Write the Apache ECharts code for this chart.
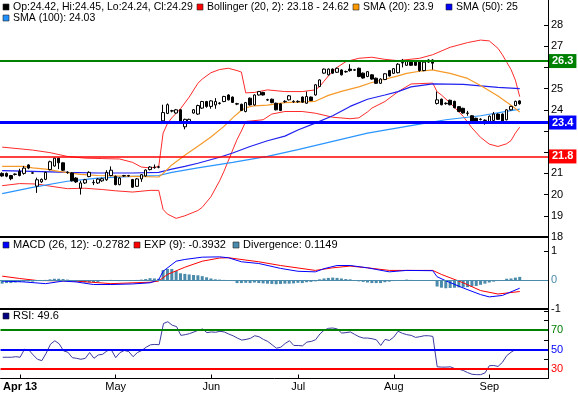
<!DOCTYPE html>
<html><head><meta charset="utf-8">
<script src="https://cdn.jsdelivr.net/npm/echarts@6/dist/echarts.min.js"></script>
<style>html,body{margin:0;padding:0;background:#fff}#c{width:578px;height:394px}</style>
</head><body><div id="c"></div>
<script>
// ---------- DATA ----------
const holidays = ['2013-03-29','2013-05-27','2013-07-04','2013-09-02'];
const firstDay = '2013-03-25';
const nDays = 120, nSlots = 126;

const ohlcOpen = [21.00,21.00,20.90,20.95,21.10,21.00,21.40,21.01,20.40,20.60,
20.72,21.18,21.35,21.72,21.50,21.04,21.02,20.78,20.30,20.55,
20.85,20.56,20.55,20.65,20.70,20.90,20.86,20.47,20.88,20.88,
20.71,20.39,20.74,20.88,21.18,21.27,21.29,23.48,23.83,23.94,
23.85,24.00,23.20,23.40,23.85,23.80,24.08,24.39,24.16,24.23,
24.30,24.39,24.70,24.60,24.27,24.26,23.92,24.55,24.23,24.70,
24.82,24.46,24.50,24.31,24.28,24.38,24.47,24.38,24.38,24.60,
24.31,24.60,24.70,25.10,25.73,25.65,25.92,25.77,25.88,25.79,
25.92,25.87,25.96,25.73,25.57,25.65,25.49,25.25,25.43,25.85,
25.72,25.75,26.21,26.10,26.25,26.25,26.25,25.85,26.35,26.35,
24.30,24.50,24.29,24.45,24.40,24.15,24.07,23.83,23.72,23.60,
23.54,23.49,23.45,23.50,23.80,23.80,23.53,24.00,24.20,24.42];
const ohlcClose = [20.88,20.87,20.75,20.97,20.90,21.25,21.25,21.03,20.70,20.72,
21.05,21.55,21.72,21.50,21.15,21.06,20.65,20.60,20.55,20.70,
21.05,20.58,20.73,20.75,21.05,21.15,20.47,20.78,20.90,20.90,
20.35,20.74,20.94,21.16,21.30,21.29,21.31,23.87,24.24,23.96,
24.00,23.40,23.55,23.55,24.00,24.20,24.39,24.16,24.42,24.39,
24.32,24.63,24.47,24.35,24.29,23.97,24.34,24.23,24.70,24.86,
24.70,24.48,24.34,24.00,23.97,24.40,24.66,24.40,24.40,24.36,
24.63,24.44,25.18,25.41,25.92,25.92,25.73,25.96,25.65,25.81,
25.85,25.89,25.57,25.50,25.80,25.45,25.25,25.45,25.70,25.60,
25.94,26.15,26.23,26.30,26.10,26.10,25.85,26.25,26.25,26.20,
24.47,24.24,24.31,24.24,24.10,23.92,23.85,23.85,23.45,23.45,
23.56,23.51,23.70,23.80,23.55,23.45,24.00,24.16,24.40,24.29];
const ohlcLow = [20.84,20.82,20.68,20.90,20.86,20.94,21.20,20.98,20.08,20.55,
20.68,21.14,21.32,21.20,21.12,20.98,20.62,20.55,20.00,20.50,
20.82,20.45,20.50,20.60,20.65,20.86,20.44,20.44,20.84,20.84,
20.32,20.36,20.60,20.84,21.14,21.22,21.24,23.45,23.80,23.88,
23.82,23.35,23.08,23.36,23.82,23.76,24.04,24.10,24.05,24.05,
24.25,24.36,24.44,24.32,24.22,23.94,23.88,24.20,24.20,24.67,
24.67,24.42,24.31,23.97,23.94,24.33,24.44,24.33,24.33,24.33,
24.28,24.41,24.67,25.07,25.70,25.62,25.70,25.74,25.62,25.75,
25.80,25.83,25.54,25.47,25.54,25.42,25.22,25.22,25.40,25.57,
25.69,25.72,26.00,26.07,26.07,26.07,25.80,25.82,26.22,25.90,
24.25,24.21,24.24,24.21,24.07,23.89,23.82,23.72,23.42,23.42,
23.50,23.30,23.42,23.47,23.52,23.42,23.50,23.97,24.17,24.24];
const ohlcHigh = [21.05,21.04,20.93,21.00,21.22,21.35,21.43,21.06,20.80,20.76,
21.08,21.60,21.75,21.75,21.52,21.10,21.05,20.82,20.65,20.74,
21.10,20.70,20.78,20.80,21.15,21.33,20.90,20.82,20.93,20.93,
20.74,20.78,20.97,21.19,21.34,21.42,21.36,24.24,24.30,24.00,
24.04,24.04,23.58,23.58,24.04,24.24,24.42,24.42,24.45,24.55,
24.36,24.66,24.73,24.63,24.33,24.29,24.37,24.58,24.73,24.89,
24.85,24.52,24.53,24.34,24.31,24.45,24.70,24.45,24.45,24.63,
24.86,24.63,25.21,25.44,25.95,25.95,25.95,25.99,25.91,25.85,
26.15,25.93,25.99,25.76,25.83,25.68,25.52,25.48,25.73,25.88,
25.97,26.20,26.40,26.33,26.28,26.28,26.28,26.28,26.38,26.38,
24.86,24.53,24.35,24.48,24.43,24.18,24.10,23.95,23.75,23.63,
23.60,23.55,23.73,23.90,23.83,23.83,24.03,24.19,24.43,24.45];

const bbUpper = [[0,22.24],[7,22.1],[11,21.98],[15,21.8],[19,21.72],[23,21.7],[27,21.68],[30,21.52],[32,21.3],[34,21.26],[36,21.32],[37,22.9],[38,23.35],[39,23.62],[41,24.05],[43,24.6],[45,25.25],[46,25.45],[48,25.75],[50,25.9],[52,25.96],[54,25.85],[55,25.78],[56,24.8],[58,24.82],[61,24.94],[65,24.86],[69,24.86],[72,24.94],[73,25.1],[74,25.35],[75,25.6],[76,25.8],[77,26.0],[79,26.27],[82,26.43],[85,26.48],[88,26.38],[91,26.32],[96,26.43],[99,26.6],[103,26.95],[107,27.17],[110,27.29],[112,27.25],[114,26.9],[115,26.6],[116,26.25],[117,25.9],[118,25.4],[119,24.62]];
const bbLower = [[0,20.42],[4,20.52],[8,20.5],[11,20.4],[15,20.28],[19,20.3],[23,20.24],[26,20.18],[30,20.12],[34,20.2],[36,20.2],[37,19.3],[38,19.08],[40,18.88],[42,19.0],[45,19.25],[46,19.4],[48,19.9],[50,20.65],[51,21.1],[53,22.1],[54,22.6],[55,23.0],[56,23.45],[57,23.47],[60,23.53],[62,23.8],[65,23.92],[69,23.92],[72,23.84],[76,23.65],[80,23.58],[82,23.62],[84,23.9],[85,24.08],[88,24.39],[91,24.85],[94,25.22],[99,25.26],[100,24.85],[101,24.7],[103,24.32],[106,23.69],[108,23.15],[110,22.7],[112,22.38],[114,22.27],[116,22.4],[117,22.55],[118,22.9],[119,23.18]];
const sma20 = [[0,21.33],[5,21.33],[7,21.26],[10,21.2],[13,21.1],[18,20.95],[22,20.9],[30,20.86],[36,20.83],[37,21.0],[39,21.4],[42,21.86],[45,22.28],[48,22.72],[51,23.22],[53,23.62],[55,23.98],[56,24.1],[58,24.19],[61,24.22],[65,24.34],[68,24.36],[72,24.4],[73,24.5],[75,24.68],[78,24.87],[82,25.08],[85,25.29],[88,25.44],[91,25.6],[93,25.72],[96,25.82],[99,25.88],[100,25.84],[103,25.72],[107,25.48],[110,25.15],[114,24.65],[117,24.22],[119,23.9]];
const sma50 = [[0,21.13],[7,21.1],[15,21.05],[22,21.02],[30,21.02],[36,21.05],[39,21.2],[42,21.33],[45,21.48],[50,21.76],[53,21.96],[57,22.27],[61,22.54],[65,22.76],[68,23.05],[72,23.37],[76,23.72],[80,24.16],[84,24.5],[88,24.7],[91,24.86],[94,25.08],[99,25.22],[106,25.2],[110,25.13],[114,25.06],[119,25.0]];
const sma100 = [[0,20.05],[7,20.34],[15,20.63],[22,20.78],[30,20.86],[36,20.9],[39,21.05],[45,21.26],[53,21.52],[61,21.8],[68,22.12],[76,22.51],[84,22.9],[89,23.08],[95,23.29],[102,23.53],[110,23.72],[119,24.03]];

const macdLine = [[0,-0.03],[5,-0.06],[10,-0.12],[14,-0.03],[17,-0.06],[21,-0.15],[25,-0.15],[30,-0.13],[34,-0.09],[35,-0.04],[36,0.02],[37,0.31],[40,0.66],[42,0.72],[46,0.8],[50,0.81],[52,0.78],[55,0.64],[59,0.58],[64,0.41],[68,0.31],[72,0.29],[74,0.4],[77,0.51],[80,0.51],[84,0.43],[89,0.29],[93,0.34],[99,0.33],[100,0.12],[102,-0.02],[106,-0.27],[110,-0.5],[112,-0.58],[115,-0.53],[119,-0.2782]];
const expLine = [[0,0.14],[4,0.06],[8,-0.01],[17,-0.03],[25,-0.12],[34,-0.07],[36,-0.03],[38,0.2],[42,0.45],[46,0.66],[50,0.77],[52,0.78],[59,0.64],[64,0.51],[72,0.34],[76,0.43],[80,0.49],[84,0.43],[89,0.34],[99,0.34],[101,0.2],[106,-0.09],[110,-0.36],[114,-0.48],[119,-0.3932]];
const divergence = [-0.12,-0.10,-0.10,-0.08,-0.06,-0.05,-0.04,-0.05,-0.03,-0.02,
0.01,0.03,0.05,0.05,0.04,0.02,-0.01,-0.05,-0.07,-0.08,
-0.08,-0.07,-0.06,-0.03,-0.02,0.01,-0.02,-0.03,0.00,-0.01,
-0.02,0.01,0.02,0.04,0.07,0.06,0.05,0.35,0.39,0.39,
0.32,0.24,0.22,0.20,0.18,0.17,0.14,0.10,0.06,0.03,
0.02,0.01,0.00,-0.03,-0.10,-0.10,-0.09,-0.10,-0.08,-0.10,
-0.11,-0.12,-0.13,-0.14,-0.13,-0.12,-0.12,-0.11,-0.09,-0.10,
-0.07,-0.06,-0.04,0.03,0.06,0.08,0.09,0.08,0.06,0.04,
0.03,0.00,-0.04,-0.06,-0.08,-0.10,-0.10,-0.10,-0.07,-0.05,
-0.03,-0.02,0.00,0.02,0.01,0.00,-0.01,-0.01,0.00,0.00,
-0.22,-0.26,-0.28,-0.27,-0.26,-0.25,-0.25,-0.24,-0.22,-0.20,
-0.16,-0.12,-0.08,-0.05,-0.03,-0.02,0.05,0.06,0.09,0.1149];
const rsi = [42.0,42.0,42.0,42.6,42.0,50.3,49.6,44.4,39.9,38.5,
46.2,55.6,59.1,55.9,48.6,47.2,41.6,40.9,39.9,40.9,
46.9,40.9,44.4,45.1,48.6,49.6,41.6,46.9,49.0,47.9,
42.6,46.9,49.0,52.4,54.9,55.3,55.0,77.0,78.8,75.2,
73.8,64.7,65.4,66.5,68.2,70.0,71.3,67.5,68.2,67.9,
68.9,68.2,66.1,64.3,61.9,59.8,60.5,61.6,64.3,63.3,
60.5,58.4,54.9,51.4,52.4,56.3,59.1,54.2,54.2,53.8,
57.7,58.4,60.1,66.1,70.2,72.0,72.3,71.3,67.1,67.5,
68.2,65.7,63.3,61.9,61.9,61.2,60.1,54.2,60.5,59.4,
62.9,68.9,66.8,65.4,64.7,62.6,63.3,64.3,64.3,63.6,
32.1,31.8,31.8,32.1,30.4,29.6,28.3,26.1,24.4,24.0,
24.0,25.8,33.2,33.5,32.5,36.7,43.7,47.2,50.0,49.6];

const resistanceLevel = 26.3, supportLevel = 23.4, lowLevel = 21.8;
const rsiLevels = [70, 50, 30];
const priceTicks = [18,19,20,21,22,23,24,25,26,27,28];
const priceLabels = [18,19,20,21,24,25,27,28];
const macdTicks = [-1,0,1];
const rsiTicks = [30,40,50,60,70,80,90];
const monthNames = ['Jan','Feb','Mar','Apr','May','Jun','Jul','Aug','Sep','Oct','Nov','Dec'];

// ---------- BUILD ----------
function buildDates(){
  const hol = new Set(holidays); const out=[];
  const p = firstDay.split('-').map(Number);
  const d = new Date(Date.UTC(p[0],p[1]-1,p[2]));
  while(out.length < nSlots){
    const wd=d.getUTCDay(); const s=d.toISOString().slice(0,10);
    if(wd!==0 && wd!==6 && !hol.has(s)) out.push(s);
    d.setUTCDate(d.getUTCDate()+1);
  }
  return out;
}
const categories = buildDates();
const monthStart = new Set();
for(let i=1;i<nDays;i++){ if(categories[i].slice(5,7)!==categories[i-1].slice(5,7)) monthStart.add(i); }
const firstMonthIdx = Math.min(...monthStart);

const candles = ohlcOpen.map((o,i)=>[o, ohlcClose[i], ohlcLow[i], ohlcHigh[i]]);
const last = a => { const v = a[a.length-1]; return Array.isArray(v) ? v[1] : v; };
const fmt = v => String(+v.toFixed(4));
const li = nDays-1;

const FONT = '"Liberation Sans", Arial, sans-serif';
const chart = echarts.init(document.getElementById('c'), null, {renderer:'canvas'});

function legendItems(y, items, size){
  const g=[];
  items.forEach(it=>{
    g.push({type:'rect', shape:{x:it.x, y:y-3, width:6, height:6}, style:{fill:it.color, stroke:'#222', lineWidth:0.6}, silent:true});
    g.push({type:'text', x:it.x+10, y:y, style:{text:it.text, fill:'#000', font:size+'px '+FONT, verticalAlign:'middle'}, silent:true});
  });
  return g;
}
const graphics = [].concat(
  legendItems(7, [
    {x:3, color:'#000', text:`Op:${fmt(ohlcOpen[li])}, Hi:${fmt(ohlcHigh[li])}, Lo:${fmt(ohlcLow[li])}, Cl:${fmt(ohlcClose[li])}`},
    {x:197, color:'#ff0000', text:`Bollinger (20, 2): ${fmt(last(bbLower))} - ${fmt(last(bbUpper))}`},
    {x:353, color:'#ff9900', text:`SMA (20): ${fmt(last(sma20))}`},
    {x:446, color:'#0000ff', text:`SMA (50): ${fmt(last(sma50))}`}
  ], 10.5),
  legendItems(18, [{x:3, color:'#1e90ff', text:`SMA (100): ${fmt(last(sma100))}`}], 10.5),
  legendItems(245, [
    {x:3, color:'#0000ff', text:`MACD (26, 12): ${fmt(last(macdLine))}`},
    {x:134, color:'#ff0000', text:`EXP (9): ${fmt(last(expLine))}`},
    {x:233, color:'#4a8aaa', text:`Divergence: ${fmt(divergence[li])}`}
  ], 11),
  legendItems(316, [{x:3, color:'#000080', text:`RSI: ${fmt(rsi[li])}`}], 11)
);

const xBase = (gi, extra) => Object.assign({
  type:'category', gridIndex:gi, data:categories, boundaryGap:true,
  axisLine:{show:true, onZero:false, lineStyle:{color:'#000', width:2}},
  axisTick:{show:false}, axisLabel:{show:false}, splitLine:{show:false}
}, extra||{});

const yBase = (gi, extra) => Object.assign({
  type:'value', gridIndex:gi, position:'right', scale:false,
  axisLine:{show:true, lineStyle:{color:'#000', width:1}},
  axisTick:{show:true, inside:true, length:4, lineStyle:{color:'#000'}},
  splitLine:{show:false},
}, extra||{});

const hLine = (val, color, width, labelText) => ({
  yAxis: val,
  lineStyle:{color, width, type:'solid'},
  label: labelText ? {show:true, position:'end', distance:1, formatter:labelText, color:'#fff', fontWeight:'bold', fontSize:11, fontFamily:FONT, backgroundColor:color, padding:[2,3,1,3]} : {show:false}
});

const option = {
  animation:false,
  textStyle:{fontFamily:FONT},
  grid:[
    {left:0, right:30, top:0, height:237},
    {left:0, right:30, top:237, height:72},
    {left:0, right:30, top:309, height:69.5}
  ],
  xAxis:[
    xBase(0),
    xBase(1),
    xBase(2, {
      axisLine:{show:true, onZero:false, lineStyle:{color:'#000', width:1}},
      axisTick:{show:true, inside:true, length:4, alignWithLabel:true, interval:(i)=>monthStart.has(i), lineStyle:{color:'#000'}},
      axisLabel:{show:true, interval:(i)=>monthStart.has(i), margin:3, fontSize:11, color:'#000',
        formatter:(v,i)=>{ const m=+v.slice(5,7)-1; return i===firstMonthIdx ? `{b|${monthNames[m]} ${v.slice(2,4)}}` : monthNames[m]; },
        rich:{b:{fontWeight:'bold', fontSize:11, fontFamily:FONT}}}
    })
  ],
  yAxis:[
    yBase(0, {min:18, max:29.18, interval:1,
      axisTick:{show:true, inside:true, length:4, lineStyle:{color:'#000'}, customValues:priceTicks},
      axisLabel:{show:true, margin:3, fontSize:11, color:'#000', customValues:priceLabels,
        formatter:(v)=> priceLabels.includes(v) ? String(v) : ''}}),
    yBase(1, {min:-1, max:1.5, interval:1,
      axisTick:{show:true, inside:true, length:4, lineStyle:{color:'#000'}, customValues:macdTicks},
      axisLabel:{show:true, margin:3, fontSize:11, customValues:macdTicks,
        formatter:(v)=> macdTicks.includes(v) ? (v===0 ? '{z|0}' : '{k|'+v+'}') : '',
        rich:{z:{color:'#4a8aaa', fontSize:11, fontFamily:FONT}, k:{color:'#000', fontSize:11, fontFamily:FONT}}}}),
    yBase(2, {min:20, max:92, interval:10,
      axisTick:{show:true, inside:true, length:4, lineStyle:{color:'#000'}, customValues:rsiTicks},
      axisLabel:{show:true, margin:3, fontSize:11, customValues:rsiLevels,
        formatter:(v)=> v===70 ? '{g|70}' : v===50 ? '{b|50}' : v===30 ? '{r|30}' : '',
        rich:{g:{color:'#008000', fontSize:11, fontFamily:FONT}, b:{color:'#0000ff', fontSize:11, fontFamily:FONT}, r:{color:'#ff0000', fontSize:11, fontFamily:FONT}}}})
  ],
  graphic: graphics,
  series:[
    {type:'line', name:'BB upper', xAxisIndex:0, yAxisIndex:0, data:bbUpper, symbol:'none', lineStyle:{color:'#ff2a2a', width:1}, z:2},
    {type:'line', name:'BB lower', xAxisIndex:0, yAxisIndex:0, data:bbLower, symbol:'none', lineStyle:{color:'#ff2a2a', width:1}, z:2},
    {type:'line', name:'SMA100', xAxisIndex:0, yAxisIndex:0, data:sma100, symbol:'none', lineStyle:{color:'#2a95ff', width:1.2}, z:2},
    {type:'line', name:'SMA50', xAxisIndex:0, yAxisIndex:0, data:sma50, symbol:'none', lineStyle:{color:'#2020f0', width:1.2}, z:2},
    {type:'line', name:'SMA20', xAxisIndex:0, yAxisIndex:0, data:sma20, symbol:'none', lineStyle:{color:'#f59a2a', width:1.2}, z:2,
      markLine:{silent:true, symbol:'none', animation:false, precision:1, data:[
        hLine(resistanceLevel, '#008000', 2, String(resistanceLevel)),
        hLine(supportLevel, '#0000ff', 3, String(supportLevel)),
        hLine(lowLevel, '#ff0000', 1.5, String(lowLevel))
      ]}},
    {type:'candlestick', name:'Price', xAxisIndex:0, yAxisIndex:0, data:candles, barWidth:3, z:4,
      itemStyle:{color:'#ffffff', color0:'#000000', borderColor:'#000000', borderColor0:'#000000', borderWidth:1}},
    {type:'bar', name:'Divergence', xAxisIndex:1, yAxisIndex:1, data:divergence, barWidth:3, itemStyle:{color:'#4a8aaa'}, z:2,
      markLine:{silent:true, symbol:'none', animation:false, label:{show:false}, data:[{yAxis:0, lineStyle:{color:'#4a8aaa', width:1, type:'solid'}}]}},
    {type:'line', name:'EXP', xAxisIndex:1, yAxisIndex:1, data:expLine, symbol:'none', lineStyle:{color:'#ff0000', width:1}, z:3},
    {type:'line', name:'MACD', xAxisIndex:1, yAxisIndex:1, data:macdLine, symbol:'none', lineStyle:{color:'#0000ff', width:1}, z:3},
    {type:'line', name:'RSI', xAxisIndex:2, yAxisIndex:2, data:rsi, symbol:'none', lineStyle:{color:'#3a3aa0', width:1}, z:3,
      markLine:{silent:true, symbol:'none', animation:false, label:{show:false}, data:[
        {yAxis:rsiLevels[0], lineStyle:{color:'#008000', width:2, type:'solid'}},
        {yAxis:rsiLevels[1], lineStyle:{color:'#0000ff', width:2, type:'solid'}},
        {yAxis:rsiLevels[2], lineStyle:{color:'#ff0000', width:2, type:'solid'}}
      ]}}
  ]
};
chart.setOption(option);
</script></body></html>
